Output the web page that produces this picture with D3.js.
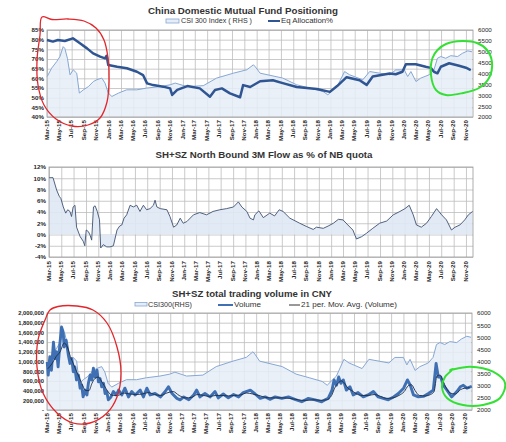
<!DOCTYPE html>
<html><head><meta charset="utf-8">
<script src="https://cdn.jsdelivr.net/npm/d3@7"></script>
<style>body{margin:0;background:#fff}svg{display:block}</style>
</head><body>
<svg id="c" width="506" height="442"></svg>
<script>
// ---------------- DATA ----------------
const csiDates = ["2015-03-02","2015-03-24","2015-04-18","2015-05-04","2015-05-20","2015-05-28","2015-06-10","2015-06-23","2015-07-09","2015-07-26","2015-08-08","2015-08-28","2015-09-22","2015-10-16","2015-11-02","2015-11-27","2015-12-13","2015-12-29","2016-01-16","2016-02-18","2016-03-29","2016-05-18","2016-07-06","2016-09-11","2016-10-30","2016-11-24","2017-01-21","2017-04-12","2017-06-17","2017-09-08","2017-11-13","2017-12-16","2017-12-26","2018-01-18","2018-05-10","2018-07-18","2018-09-21","2018-11-25","2018-12-19","2019-02-03","2019-03-12","2019-04-06","2019-06-10","2019-07-14","2019-10-21","2019-11-20","2020-01-01","2020-01-18","2020-02-03","2020-02-28","2020-03-22","2020-05-03","2020-05-27","2020-06-13","2020-06-30","2020-07-24","2020-08-18","2020-09-21","2020-10-15","2020-11-10","2020-12-01"];
const csiValues = [3860,4245,4550,4780,5235,5160,4700,3940,4170,4015,3100,3250,3400,3630,3710,3790,3560,3100,2945,3100,3250,3250,3330,3400,3480,3560,3400,3440,3790,4015,4170,4400,4300,4015,3790,3480,3330,3175,3020,3400,4090,3940,3710,4090,3940,4167,4167,3860,4090,3630,3785,3940,4170,4700,4780,4700,4820,4780,4930,5040,5000];

const eqDates = ["2015-03-01","2015-03-30","2015-04-24","2015-05-28","2015-07-07","2015-08-11","2015-09-15","2015-10-15","2015-11-19","2015-12-13","2015-12-21","2015-12-29","2016-02-11","2016-03-30","2016-05-19","2016-06-18","2016-07-08","2016-08-07","2016-09-26","2016-10-30","2016-11-09","2016-12-04","2017-01-23","2017-03-26","2017-05-15","2017-06-09","2017-07-13","2017-08-22","2017-10-11","2017-10-26","2017-11-30","2018-01-18","2018-03-22","2018-05-10","2018-07-18","2018-10-26","2018-12-29","2019-02-03","2019-03-22","2019-05-25","2019-06-29","2019-07-29","2019-10-21","2019-11-20","2019-12-23","2020-01-09","2020-02-27","2020-04-16","2020-05-11","2020-05-27","2020-06-13","2020-06-30","2020-08-10","2020-09-28","2020-11-01","2020-11-25"];
const eqValues = [79.8,79,79.8,79.3,80.7,78.1,75.5,72.9,71.2,70.3,71.7,66.9,66,65.2,63.4,61.7,57.4,56.5,55.7,54.8,51.4,54,56,54.8,50.5,54,54.8,52.2,50.2,56.5,55.5,58.5,59,57.5,55.5,54.5,53,56,60.6,59,56.6,61,62.5,62.1,63.4,67.3,67.3,66,65.4,63.4,62.6,66,67.8,66.5,65.5,64.3];

const nbDates = ["2015-03-02","2015-03-21","2015-04-08","2015-04-21","2015-04-29","2015-05-11","2015-05-23","2015-06-02","2015-06-13","2015-06-21","2015-06-29","2015-07-08","2015-07-16","2015-08-03","2015-08-18","2015-08-26","2015-09-02","2015-09-13","2015-09-21","2015-09-29","2015-10-08","2015-10-16","2015-10-27","2015-11-07","2015-11-13","2015-11-26","2015-12-13","2015-12-29","2016-01-15","2016-02-02","2016-02-15","2016-02-26","2016-03-08","2016-03-21","2016-04-07","2016-04-23","2016-05-10","2016-05-26","2016-06-12","2016-06-28","2016-07-15","2016-08-01","2016-08-09","2016-08-18","2016-09-04","2016-10-07","2016-10-22","2016-11-09","2016-11-25","2016-12-12","2016-12-27","2017-01-14","2017-02-16","2017-03-19","2017-04-22","2017-05-24","2017-06-27","2017-07-30","2017-09-03","2017-09-27","2017-10-14","2017-11-08","2017-11-24","2017-12-11","2017-12-18","2018-01-07","2018-01-29","2018-03-02","2018-03-26","2018-04-18","2018-05-07","2018-06-10","2018-07-29","2018-09-02","2018-10-04","2018-10-20","2018-11-23","2018-12-17","2019-01-12","2019-02-06","2019-03-01","2019-03-25","2019-04-19","2019-05-07","2019-06-01","2019-06-25","2019-07-27","2019-08-30","2019-10-04","2019-11-06","2019-12-09","2020-01-03","2020-01-24","2020-02-13","2020-02-29","2020-03-24","2020-04-19","2020-05-13","2020-06-08","2020-07-03","2020-07-27","2020-08-21","2020-09-08","2020-10-02","2020-10-26","2020-11-13","2020-12-04"];
const nbValues = [10.1,10.1,7.9,6.8,6.4,4.9,3.8,4.4,4.1,3.2,4.9,5.2,1.3,-0.4,-1.2,-2,0.8,0.5,-0.1,-1,4.9,5.1,4.1,2.6,-2.4,-1.8,-2.2,-2.2,-2,0.8,1.5,1.7,2.9,3.5,5.2,4.9,5.2,4.1,5.2,4.4,4.6,5.2,6.1,4.9,4.6,4.4,3.2,1.3,1.7,2.9,2.0,2.3,3.5,3.9,3.5,4.1,4.4,4.6,4.9,5.8,4.9,4.1,2.9,2.6,3.5,4.2,3.0,3.8,3.3,4.4,4.1,2.9,2.0,1.4,0.9,1.3,1.1,1.5,2.0,2.7,2.6,1.7,0.8,-0.8,-0.4,0.2,1.1,2.0,2.4,3.5,4.1,4.6,5.2,3.5,1.7,1.3,2.0,3.2,4.6,3.5,2.6,0.8,1.3,1.7,2.6,3.5,4.1];

const volDates = ["2015-03-02","2015-03-07","2015-03-15","2015-03-23","2015-04-02","2015-04-10","2015-04-18","2015-04-25","2015-05-04","2015-05-12","2015-05-20","2015-05-25","2015-06-04","2015-06-15","2015-06-23","2015-07-02","2015-07-09","2015-07-17","2015-07-25","2015-08-04","2015-08-12","2015-08-20","2015-08-27","2015-09-07","2015-09-15","2015-09-22","2015-10-01","2015-10-09","2015-10-17","2015-10-25","2015-11-04","2015-11-11","2015-11-19","2015-11-27","2015-12-06","2015-12-14","2015-12-22","2015-12-30","2016-01-12","2016-01-24","2016-02-08","2016-02-19","2016-03-06","2016-03-21","2016-04-08","2016-04-24","2016-05-11","2016-06-05","2016-06-21","2016-07-08","2016-07-24","2016-08-18","2016-09-13","2016-10-07","2016-10-23","2016-11-10","2016-12-04","2016-12-20","2017-01-07","2017-02-01","2017-02-25","2017-03-12","2017-03-28","2017-04-22","2017-05-17","2017-06-11","2017-06-27","2017-07-22","2017-08-16","2017-09-11","2017-10-06","2017-10-29","2017-12-03","2017-12-27","2018-01-21","2018-02-15","2018-03-10","2018-04-05","2018-05-08","2018-06-10","2018-07-12","2018-08-15","2018-09-17","2018-10-20","2018-11-22","2018-12-09","2018-12-24","2019-01-12","2019-01-22","2019-02-03","2019-02-14","2019-02-25","2019-03-09","2019-03-24","2019-04-11","2019-04-27","2019-05-21","2019-06-16","2019-07-10","2019-08-05","2019-08-29","2019-09-23","2019-10-18","2019-11-13","2019-12-07","2020-01-02","2020-01-21","2020-02-04","2020-02-20","2020-03-15","2020-04-09","2020-05-04","2020-05-28","2020-06-11","2020-06-22","2020-07-04","2020-07-17","2020-08-04","2020-08-27","2020-09-22","2020-10-09","2020-10-24","2020-11-11","2020-12-05"];
const volValues = [990000,720000,1100000,820000,1400000,1060000,1200000,890000,1370000,1710000,1610000,1300000,1440000,1130000,960000,1060000,790000,890000,620000,720000,450000,510000,270000,410000,310000,550000,720000,620000,860000,680000,820000,580000,650000,480000,550000,340000,380000,210000,270000,380000,310000,410000,310000,450000,270000,380000,310000,410000,270000,450000,310000,340000,270000,380000,480000,340000,240000,210000,270000,210000,310000,410000,270000,340000,270000,380000,250000,330000,250000,320000,270000,360000,410000,330000,240000,270000,220000,270000,240000,270000,220000,170000,240000,210000,170000,210000,240000,410000,620000,510000,680000,550000,620000,410000,480000,310000,360000,270000,310000,380000,270000,240000,210000,270000,340000,450000,620000,510000,310000,270000,280000,340000,410000,960000,680000,680000,510000,410000,270000,380000,480000,510000,450000,490000];

const maDates = ["2015-03-05","2015-03-25","2015-04-15","2015-05-05","2015-05-25","2015-06-10","2015-06-25","2015-07-10","2015-07-25","2015-08-10","2015-08-25","2015-09-10","2015-09-25","2015-10-10","2015-10-25","2015-11-10","2015-11-25","2015-12-10","2015-12-25","2016-01-10","2016-01-25","2016-02-15","2016-03-15","2016-04-15","2016-05-15","2016-06-15","2016-07-15","2016-08-15","2016-09-15","2016-10-15","2016-11-15","2016-12-15","2017-01-15","2017-02-15","2017-03-15","2017-04-15","2017-05-15","2017-06-15","2017-07-15","2017-08-15","2017-09-15","2017-10-15","2017-11-15","2017-12-15","2018-01-15","2018-02-15","2018-03-15","2018-04-15","2018-05-15","2018-06-15","2018-07-15","2018-08-15","2018-09-15","2018-10-15","2018-11-15","2018-12-15","2019-01-10","2019-01-25","2019-02-10","2019-02-28","2019-03-15","2019-04-01","2019-04-20","2019-05-10","2019-06-10","2019-07-10","2019-08-10","2019-09-10","2019-10-10","2019-11-10","2019-12-10","2020-01-05","2020-01-25","2020-02-10","2020-02-28","2020-03-20","2020-04-20","2020-05-15","2020-06-01","2020-06-15","2020-07-01","2020-07-15","2020-08-01","2020-08-20","2020-09-15","2020-10-10","2020-11-01","2020-11-25"];
const maValues = [850000,950000,1100000,1200000,1380000,1300000,1100000,950000,800000,650000,500000,400000,400000,550000,650000,680000,600000,500000,400000,320000,300000,300000,350000,330000,320000,330000,360000,320000,300000,350000,380000,300000,250000,260000,320000,300000,280000,300000,300000,290000,300000,310000,350000,330000,300000,260000,250000,250000,250000,240000,220000,200000,200000,210000,200000,210000,300000,450000,550000,600000,550000,450000,400000,340000,300000,300000,320000,280000,240000,250000,300000,380000,500000,520000,400000,300000,290000,320000,380000,700000,720000,600000,450000,350000,330000,420000,450000,460000];

const pctTicks1 = [40,45,50,55,60,65,70,75,80,85];
const csiTicks = [2000,2500,3000,3500,4000,4500,5000,5500,6000];
const nbTicks = [-4,-2,0,2,4,6,8,10,12];
const volTicks = [0,200000,400000,600000,800000,1000000,1200000,1400000,1600000,1800000,2000000];

// ---------------- DRAW ----------------
const svg = d3.select("#c");
const parse = d3.timeParse("%Y-%m-%d");
const zip = (ds, vs) => ds.map((d, i) => ({date: parse(d), v: vs[i]}));
const csi = zip(csiDates, csiValues), eq = zip(eqDates, eqValues), nb = zip(nbDates, nbValues);
const vol = zip(volDates, volValues), ma = zip(maDates, maValues);
const T0 = new Date(2015, 2, 1), T1 = new Date(2020, 11, 6);
const FONT = "'Liberation Sans', Arial, sans-serif";
const GRID = "#bdbdbd", TXT = "#262626";
const C_CSI_LINE = "#87a7d5", C_CSI_FILL = "#e6edf7";

function frame(p, x, yGrid, gridVals, labelY) {
  const g = svg.append("g");
  const ticks = d3.timeMonth.every(2).range(T0, T1);
  g.append("g").attr("transform", `translate(0,${p.b})`)
    .call(d3.axisBottom(x).tickValues(ticks).tickSize(-(p.b - p.t)).tickFormat(""))
    .call(s => { s.select(".domain").remove(); s.selectAll("line").attr("stroke", GRID).attr("stroke-width", 0.8); });
  g.append("g").attr("transform", `translate(${p.l},0)`)
    .call(d3.axisLeft(yGrid).tickValues(gridVals).tickSize(-(p.r - p.l)).tickFormat(""))
    .call(s => { s.select(".domain").remove(); s.selectAll("line").attr("stroke", GRID).attr("stroke-width", 0.8); });
  g.append("g").attr("transform", `translate(0,${labelY})`)
    .call(d3.axisBottom(x).tickValues(ticks).tickSize(0).tickFormat(d3.timeFormat("%b-%y")))
    .call(s => {
      s.select(".domain").remove();
      s.attr("font-family", FONT).attr("font-size", 6.2);
      s.selectAll("text").attr("transform", "rotate(-90)").attr("text-anchor", "end")
        .attr("x", 0).attr("y", -1).attr("dy", "0.35em").attr("fill", TXT).attr("font-weight", "bold");
    });
  return g;
}
function border(p) {
  svg.append("rect").attr("x", p.l).attr("y", p.t).attr("width", p.r - p.l).attr("height", p.b - p.t)
    .attr("fill", "none").attr("stroke", "#9a9a9a").attr("stroke-width", 0.8);
}
function leftAxis(p, y, vals, fmt, size) {
  svg.append("g").attr("transform", `translate(${p.l},0)`)
    .call(d3.axisLeft(y).tickValues(vals).tickSize(0).tickPadding(3).tickFormat(fmt))
    .call(s => { s.select(".domain").remove(); s.attr("font-family", FONT).attr("font-size", size);
      s.selectAll("text").attr("fill", TXT).attr("font-weight", "bold"); });
}
function rightAxis(p, y, vals, size) {
  svg.append("g").attr("transform", `translate(${p.r},0)`)
    .call(d3.axisRight(y).tickValues(vals).tickSize(0).tickPadding(5).tickFormat(d3.format("d")))
    .call(s => { s.select(".domain").remove(); s.attr("font-family", FONT).attr("font-size", size);
      s.selectAll("text").attr("fill", TXT); });
}
function title(txt, cx, y, len) {
  svg.append("text").attr("x", cx).attr("y", y).attr("text-anchor", "middle")
    .attr("font-family", FONT).attr("font-weight", "bold").attr("font-size", 9.5).attr("fill", "#333")
    .attr("textLength", len).attr("lengthAdjust", "spacingAndGlyphs").text(txt);
}
function legText(txt, x, y, len) {
  svg.append("text").attr("x", x).attr("y", y).attr("font-family", FONT).attr("font-size", 6.4)
    .attr("fill", "#333").attr("textLength", len).attr("lengthAdjust", "spacingAndGlyphs").text(txt);
}
function legBox(x, y, w, h) {
  svg.append("rect").attr("x", x).attr("y", y).attr("width", w).attr("height", h)
    .attr("fill", C_CSI_FILL).attr("stroke", C_CSI_LINE).attr("stroke-width", 0.8);
}
function legLine(x1, x2, y, col, w) {
  svg.append("line").attr("x1", x1).attr("x2", x2).attr("y1", y).attr("y2", y).attr("stroke", col).attr("stroke-width", w);
}
function loop(pts, col, w) {
  svg.append("path").attr("d", d3.line().curve(d3.curveCatmullRomClosed)(pts))
    .attr("fill", "none").attr("stroke", col).attr("stroke-width", w).attr("stroke-linejoin", "round");
}

// ===== Panel 1 =====
const p1 = {l: 47, r: 473, t: 30, b: 117};
const x1 = d3.scaleTime().domain([T0, T1]).range([p1.l, p1.r]);
const y1L = d3.scaleLinear().domain([40, 85]).range([p1.b, p1.t]);
const y1R = d3.scaleLinear().domain([2000, 6000]).range([p1.b, p1.t]);
frame(p1, x1, y1L, pctTicks1, 120);
svg.append("path").datum(csi).attr("fill", C_CSI_FILL).attr("fill-opacity", 0.85)
  .attr("d", d3.area().x(d => x1(d.date)).y0(p1.b).y1(d => y1R(d.v)));
border(p1);
svg.append("path").datum(csi).attr("fill", "none").attr("stroke", C_CSI_LINE).attr("stroke-width", 1)
  .attr("d", d3.line().x(d => x1(d.date)).y(d => y1R(d.v)));
svg.append("path").datum(eq).attr("fill", "none").attr("stroke", "#2f5593").attr("stroke-width", 2.5)
  .attr("stroke-linejoin", "round").attr("d", d3.line().x(d => x1(d.date)).y(d => y1L(d.v)));
leftAxis(p1, y1L, pctTicks1, d => d + "%", 6.2);
rightAxis(p1, y1R, csiTicks, 6.2);
title("China Domestic Mutual Fund Positioning", 243, 14, 190);
legBox(166, 19, 13, 4);
legText("CSI 300 Index ( RHS )", 181, 23, 71);
legLine(268, 280, 21, "#2f5593", 2);
legText("Eq Allocation%", 281, 23, 52);

// ===== Panel 2 =====
const p2 = {l: 49, r: 473, t: 167, b: 257};
const x2 = d3.scaleTime().domain([T0, T1]).range([p2.l, p2.r]);
const y2 = d3.scaleLinear().domain([-4, 12]).range([p2.b, p2.t]);
frame(p2, x2, y2, nbTicks, 261);
svg.append("path").datum(nb).attr("fill", "#dfe8f4").attr("fill-opacity", 0.9)
  .attr("d", d3.area().x(d => x2(d.date)).y0(y2(0)).y1(d => y2(d.v)));
border(p2);
svg.append("path").datum(nb).attr("fill", "none").attr("stroke", "#3f5170").attr("stroke-width", 0.9)
  .attr("d", d3.line().x(d => x2(d.date)).y(d => y2(d.v)));
leftAxis(p2, y2, nbTicks, d => d + "%", 6.2);
title("SH+SZ North Bound 3M Flow as % of NB quota", 264, 158, 217);

// ===== Panel 3 =====
const p3 = {l: 47, r: 472, t: 313, b: 410};
const x3 = d3.scaleTime().domain([T0, T1]).range([p3.l, p3.r]);
const y3L = d3.scaleLinear().domain([0, 2000000]).range([p3.b, p3.t]);
const y3R = d3.scaleLinear().domain([2000, 6000]).range([p3.b, p3.t]);
frame(p3, x3, y3L, volTicks, 413);
svg.append("path").datum(csi).attr("fill", C_CSI_FILL).attr("fill-opacity", 0.85)
  .attr("d", d3.area().x(d => x3(d.date)).y0(p3.b).y1(d => y3R(d.v)));
border(p3);
svg.append("path").datum(csi).attr("fill", "none").attr("stroke", C_CSI_LINE).attr("stroke-width", 1)
  .attr("d", d3.line().x(d => x3(d.date)).y(d => y3R(d.v)));
svg.append("path").datum(vol).attr("fill", "none").attr("stroke", "#3f70b3").attr("stroke-width", 2.9)
  .attr("stroke-linejoin", "round").attr("d", d3.line().x(d => x3(d.date)).y(d => y3L(d.v)));
svg.append("path").datum(ma).attr("fill", "none").attr("stroke", "#1d2b45").attr("stroke-width", 0.9)
  .attr("d", d3.line().curve(d3.curveMonotoneX).x(d => x3(d.date)).y(d => y3L(d.v)));
leftAxis(p3, y3L, volTicks, d => d === 0 ? "-" : d3.format(",")(d), 5.8);
rightAxis(p3, y3R, csiTicks, 6.2);
title("SH+SZ total trading volume in CNY", 252, 297, 160);
legBox(135, 302.5, 12, 3.5);
legText("CSI300(RHS)", 148, 307, 44);
legLine(218, 233, 305, "#3f70b3", 2);
legText("Volume", 234, 307, 27);
legLine(289, 300, 305, "#333", 1);
legText("21 per. Mov. Avg. (Volume)", 301, 307, 96);

// ===== hand-drawn annotation loops =====
const red1 = [[42,17],[40,35],[37,60],[38,85],[44,105],[56,119],[72,126],[88,125],[100,118],[107,102],[109,80],[108,58],[104,40],[96,28],[84,21],[68,19],[52,19.5]];
const green1 = [[446,44],[462,41],[477,43],[487,50],[492,62],[489,78],[479,88],[463,93],[446,95],[436,90],[431,75],[432.5,58],[437.5,50]];
const red3 = [[50,310],[58,306.5],[77,306],[93,310],[107,323],[117,347],[121,373],[117,397],[107,413],[90,423],[73,423],[57,413],[43,393],[37,367],[38,340],[45,320]];
const green3 = [[450,370],[470,366.7],[493,371.7],[505,383],[500,398],[483,405],[463,405],[447,398],[442,387],[445,377],[453,369]];
loop(red1, "#e3262b", 1.3);
loop(green1, "#35e035", 2);
loop(red3, "#e3262b", 1.3);
loop(green3, "#35e035", 2);
</script>
</body></html>
